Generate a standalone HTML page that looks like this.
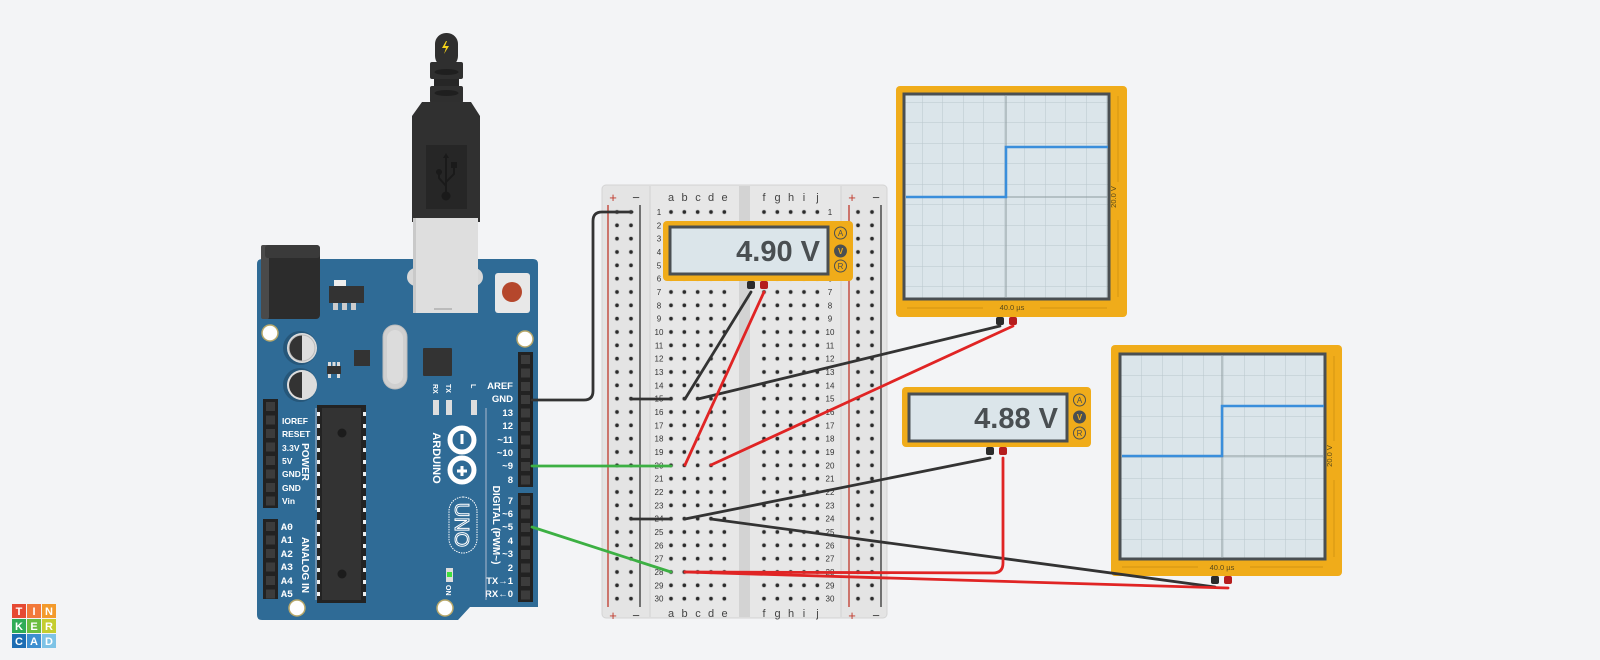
<!DOCTYPE html>
<html><head><meta charset="utf-8"><style>
html,body{margin:0;padding:0;background:#f3f4f6;}
svg{display:block;font-family:"Liberation Sans",sans-serif;}
</style></head><body>
<svg width="1600" height="660" viewBox="0 0 1600 660" xmlns="http://www.w3.org/2000/svg">
<defs>
<pattern id="h1" x="664.33" y="205.33" width="13.333" height="13.333" patternUnits="userSpaceOnUse"><circle cx="6.67" cy="6.67" r="2.6" fill="#d2d2d2"/><circle cx="6.67" cy="6.67" r="1.8" fill="#2b2b2b"/></pattern>
<pattern id="h2" x="757.33" y="205.33" width="13.333" height="13.333" patternUnits="userSpaceOnUse"><circle cx="6.67" cy="6.67" r="2.6" fill="#d2d2d2"/><circle cx="6.67" cy="6.67" r="1.8" fill="#2b2b2b"/></pattern>
<pattern id="h3" x="610.33" y="205.33" width="14" height="13.333" patternUnits="userSpaceOnUse"><circle cx="6.67" cy="6.67" r="2.6" fill="#d2d2d2"/><circle cx="6.67" cy="6.67" r="1.8" fill="#2b2b2b"/></pattern>
<pattern id="h4" x="851.33" y="205.33" width="14" height="13.333" patternUnits="userSpaceOnUse"><circle cx="6.67" cy="6.67" r="2.6" fill="#d2d2d2"/><circle cx="6.67" cy="6.67" r="1.8" fill="#2b2b2b"/></pattern>
<pattern id="grid" x="0" y="0" width="20.5" height="20.5" patternUnits="userSpaceOnUse"><path d="M20.5 0V20.5H0" fill="none" stroke="#b9c6cc" stroke-width="1"/></pattern>
</defs>

<!-- USB cable -->
<g>
<rect x="435" y="33" width="23" height="34" rx="11" fill="#2f2f2f"/>
<path d="M446 41 l-4 7 h4 l-2 6 l5 -8 h-4 l2 -5z" fill="#f5d31a"/>
<rect x="430" y="62" width="33" height="17" rx="2" fill="#2f2f2f"/>
<ellipse cx="446.5" cy="72" rx="12" ry="3" fill="#1f1f1f"/>
<rect x="434" y="79" width="25" height="7" fill="#262626"/>
<rect x="430" y="86" width="33" height="17" rx="2" fill="#2f2f2f"/>
<ellipse cx="446.5" cy="93" rx="12" ry="3" fill="#1f1f1f"/>
<path d="M422 102 H471 L480 116 V222 H412 V116Z" fill="#303030"/>
<rect x="426" y="145" width="41" height="64" fill="#262626"/>
<g stroke="#1a1a1a" stroke-width="2" fill="none"><path d="M446 157 V196 M446 186 L439 178 V172 M446 182 L454 174 V166"/></g>
<path d="M446 153 l-3 5 h6z" fill="#1a1a1a"/><circle cx="439" cy="172" r="3" fill="#1a1a1a"/><rect x="451" y="162" width="6" height="6" fill="#1a1a1a"/><circle cx="446" cy="196" r="4.5" fill="#1a1a1a"/>
</g>

<!-- Arduino -->
<g>
<path d="M262 259 H533 Q538 259 538 264 V607 H470 L458 620 H262 Q257 620 257 615 V264 Q257 259 262 259Z" fill="#2f6b96"/>
<rect x="265" y="245" width="55" height="74" rx="4" fill="#2c2c2c"/>
<rect x="261" y="245" width="8" height="74" rx="2" fill="#4a4a4a"/>
<rect x="265" y="245" width="55" height="13" rx="3" fill="#3a3a3a"/>
<rect x="334" y="280" width="12" height="6" fill="#eee"/>
<rect x="329" y="286" width="35" height="17" fill="#333"/>
<rect x="333" y="303" width="5" height="7" fill="#ccc"/><rect x="342" y="303" width="5" height="7" fill="#ccc"/><rect x="351" y="303" width="5" height="7" fill="#ccc"/>
<!-- USB B -->
<rect x="407" y="268" width="76" height="18" rx="9" fill="#d8d8d8"/>
<rect x="413" y="218" width="65" height="95" fill="#dedede"/>
<rect x="413" y="218" width="3" height="95" fill="#c9c9c9"/>
<rect x="434" y="308" width="18" height="2" fill="#bbb"/>
<!-- reset -->
<rect x="495" y="273" width="35" height="40" rx="3" fill="#e8e8e8"/>
<circle cx="512" cy="292" r="10" fill="#b5472c"/>
<!-- holes -->
<circle cx="270" cy="333" r="8" fill="#fff" stroke="#b8a86a" stroke-width="1.5"/>
<circle cx="525" cy="339" r="8" fill="#fff" stroke="#b8a86a" stroke-width="1.5"/>
<circle cx="297" cy="608" r="8" fill="#fff" stroke="#b8a86a" stroke-width="1.5"/>
<circle cx="445" cy="608" r="8" fill="#fff" stroke="#b8a86a" stroke-width="1.5"/>
<!-- caps -->
<circle cx="300" cy="348" r="17" fill="#26577a"/><circle cx="302" cy="348" r="15" fill="#ddd"/><path d="M302 335 A13 13 0 0 0 302 361Z" fill="#333"/><circle cx="302" cy="348" r="13" fill="none" stroke="#bbb" stroke-width="1"/>
<circle cx="300" cy="385" r="17" fill="#26577a"/><circle cx="302" cy="385" r="15" fill="#ddd"/><path d="M302 372 A13 13 0 0 0 302 398Z" fill="#333"/>
<rect x="354" y="350" width="16" height="16" fill="#333"/>
<rect x="327" y="366" width="14" height="8" fill="#333"/>
<rect x="328" y="362" width="3" height="4" fill="#ddd"/><rect x="332.5" y="362" width="3" height="4" fill="#ddd"/><rect x="337" y="362" width="3" height="4" fill="#ddd"/>
<rect x="328" y="374" width="3" height="4" fill="#ddd"/><rect x="337" y="374" width="3" height="4" fill="#ddd"/>
<rect x="383" y="325" width="24" height="64" rx="12" fill="#d0d0d0" stroke="#bdbdbd"/>
<rect x="387" y="330" width="16" height="54" rx="8" fill="#dcdcdc"/>
<rect x="423" y="348" width="29" height="28" rx="1" fill="#333"/>
<!-- ATmega -->
<rect x="317" y="405" width="49" height="198" fill="#232323"/>
<rect x="322" y="408" width="39" height="192" fill="#333"/>
<g fill="#eee"><rect x="317" y="412" width="3" height="4"/><rect x="317" y="424" width="3" height="4"/><rect x="317" y="436" width="3" height="4"/><rect x="317" y="448" width="3" height="4"/><rect x="317" y="460" width="3" height="4"/><rect x="317" y="472" width="3" height="4"/><rect x="317" y="484" width="3" height="4"/><rect x="317" y="496" width="3" height="4"/><rect x="317" y="508" width="3" height="4"/><rect x="317" y="520" width="3" height="4"/><rect x="317" y="532" width="3" height="4"/><rect x="317" y="544" width="3" height="4"/><rect x="317" y="556" width="3" height="4"/><rect x="317" y="568" width="3" height="4"/><rect x="317" y="580" width="3" height="4"/><rect x="317" y="592" width="3" height="4"/>
<rect x="363" y="412" width="3" height="4"/><rect x="363" y="424" width="3" height="4"/><rect x="363" y="436" width="3" height="4"/><rect x="363" y="448" width="3" height="4"/><rect x="363" y="460" width="3" height="4"/><rect x="363" y="472" width="3" height="4"/><rect x="363" y="484" width="3" height="4"/><rect x="363" y="496" width="3" height="4"/><rect x="363" y="508" width="3" height="4"/><rect x="363" y="520" width="3" height="4"/><rect x="363" y="532" width="3" height="4"/><rect x="363" y="544" width="3" height="4"/><rect x="363" y="556" width="3" height="4"/><rect x="363" y="568" width="3" height="4"/><rect x="363" y="580" width="3" height="4"/><rect x="363" y="592" width="3" height="4"/></g>
<circle cx="342" cy="433" r="4.5" fill="#1c1c1c"/><circle cx="342" cy="574" r="4.5" fill="#1c1c1c"/>
<!-- headers -->
<rect x="263" y="399" width="15" height="109" fill="#222"/>
<rect x="263" y="519" width="15" height="80" fill="#222"/>
<rect x="518" y="352" width="15" height="135" fill="#222"/>
<rect x="518" y="493" width="15" height="109" fill="#222"/>
<g fill="#3c3c3c">
<rect x="266" y="402" width="9" height="9"/><rect x="266" y="415.5" width="9" height="9"/><rect x="266" y="429" width="9" height="9"/><rect x="266" y="442.5" width="9" height="9"/><rect x="266" y="456" width="9" height="9"/><rect x="266" y="469.5" width="9" height="9"/><rect x="266" y="483" width="9" height="9"/><rect x="266" y="496.5" width="9" height="9"/>
<rect x="266" y="522" width="9" height="9"/><rect x="266" y="535.5" width="9" height="9"/><rect x="266" y="549" width="9" height="9"/><rect x="266" y="562.5" width="9" height="9"/><rect x="266" y="576" width="9" height="9"/><rect x="266" y="589.5" width="9" height="9"/>
<rect x="521" y="355" width="9" height="9"/><rect x="521" y="368.5" width="9" height="9"/><rect x="521" y="382" width="9" height="9"/><rect x="521" y="395" width="9" height="9"/><rect x="521" y="408.5" width="9" height="9"/><rect x="521" y="422" width="9" height="9"/><rect x="521" y="435.5" width="9" height="9"/><rect x="521" y="449" width="9" height="9"/><rect x="521" y="462" width="9" height="9"/><rect x="521" y="475.5" width="9" height="9"/>
<rect x="521" y="496" width="9" height="9"/><rect x="521" y="509.5" width="9" height="9"/><rect x="521" y="523" width="9" height="9"/><rect x="521" y="536.5" width="9" height="9"/><rect x="521" y="550" width="9" height="9"/><rect x="521" y="563.5" width="9" height="9"/><rect x="521" y="577" width="9" height="9"/><rect x="521" y="590.5" width="9" height="9"/>
</g>
<g fill="#fff" font-size="8.5" font-weight="bold">
<text x="282" y="424">IOREF</text><text x="282" y="437">RESET</text><text x="282" y="451">3.3V</text><text x="282" y="464">5V</text><text x="282" y="477">GND</text><text x="282" y="491">GND</text><text x="282" y="504">Vin</text>
</g>
<g fill="#fff" font-size="10" font-weight="bold" font-family="Liberation Mono,monospace">
<text x="281" y="530">A0</text><text x="281" y="543">A1</text><text x="281" y="557">A2</text><text x="281" y="570">A3</text><text x="281" y="584">A4</text><text x="281" y="597">A5</text>
</g>
<line x1="316" y1="408" x2="316" y2="510" stroke="#ccd" stroke-width="0.8"/>
<line x1="316" y1="520" x2="316" y2="600" stroke="#ccd" stroke-width="0.8"/>
<text transform="translate(302,462) rotate(90)" text-anchor="middle" fill="#fff" font-size="10" font-weight="bold">POWER</text>
<text transform="translate(302,565) rotate(90)" text-anchor="middle" fill="#fff" font-size="10" font-weight="bold">ANALOG IN</text>
<g fill="#fff" font-size="9.5" font-weight="bold" text-anchor="end">
<text x="513" y="389">AREF</text><text x="513" y="402">GND</text><text x="513" y="416">13</text><text x="513" y="429">12</text><text x="513" y="443">~11</text><text x="513" y="456">~10</text><text x="513" y="469">~9</text><text x="513" y="483">8</text>
<text x="513" y="504">7</text><text x="513" y="517">~6</text><text x="513" y="530">~5</text><text x="513" y="544">4</text><text x="513" y="557">~3</text><text x="513" y="571">2</text><text x="513" y="584">TX→1</text><text x="513" y="597">RX←0</text>
</g>
<line x1="486" y1="408" x2="486" y2="600" stroke="#ccd" stroke-width="0.8"/>
<text transform="translate(493,525) rotate(90)" text-anchor="middle" fill="#fff" font-size="10" font-weight="bold">DIGITAL (PWM~)</text>
<g font-size="7" fill="#fff" font-weight="bold">
<text transform="translate(433,384) rotate(90)">RX</text><text transform="translate(446,384) rotate(90)">TX</text><text transform="translate(471,384) rotate(90)">L</text>
</g>
<rect x="433" y="400" width="6" height="15" fill="#ddd"/><rect x="446" y="400" width="6" height="15" fill="#ddd"/><rect x="471" y="400" width="6" height="15" fill="#ddd"/>
<text transform="translate(433,458) rotate(90)" text-anchor="middle" fill="#fff" font-size="11" font-weight="bold">ARDUINO</text>
<circle cx="462" cy="440" r="12" fill="none" stroke="#fff" stroke-width="5"/>
<circle cx="462" cy="470" r="12" fill="none" stroke="#fff" stroke-width="5"/>
<rect x="460.5" y="434" width="3" height="10" fill="#fff"/>
<path d="M457 471 H467 M462 466 V476" stroke="#fff" stroke-width="3"/>
<rect x="449" y="497" width="28" height="56" rx="14" fill="none" stroke="#fff" stroke-width="1" stroke-dasharray="1.5 1"/>
<text transform="translate(455,525) rotate(90)" text-anchor="middle" fill="none" stroke="#fff" stroke-width="1" font-size="20">UNO</text>
<rect x="446" y="568" width="7" height="14" fill="#ddd"/><rect x="447" y="572" width="5" height="5" fill="#3ee03e"/>
<text transform="translate(446,585) rotate(90)" fill="#fff" font-size="7" font-weight="bold">ON</text>
</g>

<!-- breadboard -->
<g>
<rect x="602" y="185" width="285" height="433" rx="4" fill="#e4e4e4" stroke="#d4d4d4"/>
<rect x="650" y="186" width="191" height="431" fill="#e7e7e7"/>
<line x1="650" y1="186" x2="650" y2="617" stroke="#d2d2d2"/>
<line x1="841" y1="186" x2="841" y2="617" stroke="#d2d2d2"/>
<rect x="739" y="186" width="11" height="431" fill="#d3d3d3"/>
<line x1="608" y1="205" x2="608" y2="607" stroke="#c0392b" stroke-width="1.3"/>
<line x1="640" y1="205" x2="640" y2="607" stroke="#333" stroke-width="1.3"/>
<line x1="849" y1="205" x2="849" y2="607" stroke="#c0392b" stroke-width="1.3"/>
<line x1="881" y1="205" x2="881" y2="607" stroke="#333" stroke-width="1.3"/>
<rect x="610.33" y="205.33" width="28" height="400" fill="url(#h3)"/>
<rect x="851.33" y="205.33" width="28" height="400" fill="url(#h4)"/>
<rect x="664.33" y="205.33" width="66.67" height="400" fill="url(#h1)"/>
<rect x="757.33" y="205.33" width="66.67" height="400" fill="url(#h2)"/>
<g font-size="13" text-anchor="middle" fill="#c0392b"><text x="613" y="202">+</text><text x="613" y="620">+</text><text x="852" y="202">+</text><text x="852" y="620">+</text></g>
<g font-size="13" text-anchor="middle" fill="#444"><text x="636" y="202">−</text><text x="636" y="620">−</text><text x="876" y="202">−</text><text x="876" y="620">−</text></g>
<g font-size="11" text-anchor="middle" fill="#444">
<text x="671" y="201">a</text><text x="684.5" y="201">b</text><text x="698" y="201">c</text><text x="711" y="201">d</text><text x="724.5" y="201">e</text>
<text x="764" y="201">f</text><text x="777.5" y="201">g</text><text x="791" y="201">h</text><text x="804" y="201">i</text><text x="817.5" y="201">j</text>
<text x="671" y="617">a</text><text x="684.5" y="617">b</text><text x="698" y="617">c</text><text x="711" y="617">d</text><text x="724.5" y="617">e</text>
<text x="764" y="617">f</text><text x="777.5" y="617">g</text><text x="791" y="617">h</text><text x="804" y="617">i</text><text x="817.5" y="617">j</text>
</g>
<g font-size="8" text-anchor="middle" fill="#333">
<text x="659" y="215">1</text><text x="659" y="228.3">2</text><text x="659" y="241.7">3</text><text x="659" y="255">4</text><text x="659" y="268.3">5</text><text x="659" y="281.7">6</text><text x="659" y="295">7</text><text x="659" y="308.3">8</text><text x="659" y="321.7">9</text><text x="659" y="335">10</text><text x="659" y="348.3">11</text><text x="659" y="361.7">12</text><text x="659" y="375">13</text><text x="659" y="388.3">14</text><text x="659" y="401.7">15</text><text x="659" y="415">16</text><text x="659" y="428.3">17</text><text x="659" y="441.7">18</text><text x="659" y="455">19</text><text x="659" y="468.3">20</text><text x="659" y="481.7">21</text><text x="659" y="495">22</text><text x="659" y="508.3">23</text><text x="659" y="521.7">24</text><text x="659" y="535">25</text><text x="659" y="548.3">26</text><text x="659" y="561.7">27</text><text x="659" y="575">28</text><text x="659" y="588.3">29</text><text x="659" y="601.7">30</text>
<text x="830" y="215">1</text><text x="830" y="228.3">2</text><text x="830" y="241.7">3</text><text x="830" y="255">4</text><text x="830" y="268.3">5</text><text x="830" y="281.7">6</text><text x="830" y="295">7</text><text x="830" y="308.3">8</text><text x="830" y="321.7">9</text><text x="830" y="335">10</text><text x="830" y="348.3">11</text><text x="830" y="361.7">12</text><text x="830" y="375">13</text><text x="830" y="388.3">14</text><text x="830" y="401.7">15</text><text x="830" y="415">16</text><text x="830" y="428.3">17</text><text x="830" y="441.7">18</text><text x="830" y="455">19</text><text x="830" y="468.3">20</text><text x="830" y="481.7">21</text><text x="830" y="495">22</text><text x="830" y="508.3">23</text><text x="830" y="521.7">24</text><text x="830" y="535">25</text><text x="830" y="548.3">26</text><text x="830" y="561.7">27</text><text x="830" y="575">28</text><text x="830" y="588.3">29</text><text x="830" y="601.7">30</text>
</g>
</g>

<!-- Oscilloscope 1 -->
<g>
<rect x="896" y="86" width="231" height="231" rx="4" fill="#f0ac1a"/>
<rect x="904" y="94" width="205" height="205" fill="#dbe5ea" stroke="#4a4f52" stroke-width="3"/>
<rect x="905.5" y="95.5" width="202" height="202" fill="url(#grid)" transform="translate(0,0)"/>
<line x1="1006" y1="95" x2="1006" y2="298" stroke="#8e9a9f" stroke-width="1"/>
<line x1="905" y1="197" x2="1108" y2="197" stroke="#8e9a9f" stroke-width="1"/>
<path d="M906 197 H1006 V147 H1108" fill="none" stroke="#3a8edb" stroke-width="2.5"/>
<text x="1012" y="310" text-anchor="middle" font-size="7.5" fill="#5a4a1a">40.0 µs</text>
<line x1="907" y1="308" x2="983" y2="308" stroke="#c98d10" stroke-width="0.7"/><line x1="1040" y1="308" x2="1107" y2="308" stroke="#c98d10" stroke-width="0.7"/>
<text transform="translate(1116,197) rotate(-90)" text-anchor="middle" font-size="7.5" fill="#5a4a1a">20.0 V</text>
<line x1="1118" y1="96" x2="1118" y2="182" stroke="#c98d10" stroke-width="0.7"/><line x1="1118" y1="220" x2="1118" y2="297" stroke="#c98d10" stroke-width="0.7"/>
</g>
<!-- Oscilloscope 2 -->
<g>
<rect x="1111" y="345" width="231" height="231" rx="4" fill="#f0ac1a"/>
<rect x="1120" y="354" width="205" height="205" fill="#dbe5ea" stroke="#4a4f52" stroke-width="3"/>
<g transform="translate(1121.5,355.5)"><rect x="0" y="0" width="202" height="202" fill="url(#grid)"/></g>
<line x1="1222" y1="355" x2="1222" y2="558" stroke="#8e9a9f" stroke-width="1"/>
<line x1="1121" y1="456" x2="1324" y2="456" stroke="#8e9a9f" stroke-width="1"/>
<path d="M1122 456 H1222 V406 H1324" fill="none" stroke="#3a8edb" stroke-width="2.5"/>
<text x="1222" y="570" text-anchor="middle" font-size="7.5" fill="#5a4a1a">40.0 µs</text>
<line x1="1122" y1="567" x2="1198" y2="567" stroke="#c98d10" stroke-width="0.7"/><line x1="1250" y1="567" x2="1323" y2="567" stroke="#c98d10" stroke-width="0.7"/>
<text transform="translate(1332,456) rotate(-90)" text-anchor="middle" font-size="7.5" fill="#5a4a1a">20.0 V</text>
<line x1="1334" y1="356" x2="1334" y2="441" stroke="#c98d10" stroke-width="0.7"/><line x1="1334" y1="480" x2="1334" y2="557" stroke="#c98d10" stroke-width="0.7"/>
</g>

<!-- Multimeter 1 -->
<g>
<rect x="663" y="221" width="190" height="60" rx="4" fill="#f0ac1a"/>
<rect x="670" y="227" width="158" height="47" fill="#dbe5ea" stroke="#4a4f52" stroke-width="3"/>
<text x="820" y="261" text-anchor="end" font-size="29" font-weight="bold" fill="#4a4f52">4.90 V</text>
<circle cx="840.5" cy="233" r="6" fill="none" stroke="#4a4f52" stroke-width="1"/><text x="840.5" y="236" text-anchor="middle" font-size="8" fill="#4a4f52">A</text>
<circle cx="840.5" cy="251" r="6.5" fill="#4a4f52"/><text x="840.5" y="254" text-anchor="middle" font-size="8" fill="#f0ac1a" font-weight="bold">V</text>
<circle cx="840.5" cy="266" r="6" fill="none" stroke="#4a4f52" stroke-width="1"/><text x="840.5" y="269" text-anchor="middle" font-size="8" fill="#4a4f52">R</text>
</g>
<!-- Multimeter 2 -->
<g>
<rect x="902" y="387" width="189" height="60" rx="4" fill="#f0ac1a"/>
<rect x="909" y="394" width="158" height="47" fill="#dbe5ea" stroke="#4a4f52" stroke-width="3"/>
<text x="1058" y="428" text-anchor="end" font-size="29" font-weight="bold" fill="#4a4f52">4.88 V</text>
<circle cx="1079.5" cy="400" r="6" fill="none" stroke="#4a4f52" stroke-width="1"/><text x="1079.5" y="403" text-anchor="middle" font-size="8" fill="#4a4f52">A</text>
<circle cx="1079.5" cy="417" r="6.5" fill="#4a4f52"/><text x="1079.5" y="420" text-anchor="middle" font-size="8" fill="#f0ac1a" font-weight="bold">V</text>
<circle cx="1079.5" cy="433" r="6" fill="none" stroke="#4a4f52" stroke-width="1"/><text x="1079.5" y="436" text-anchor="middle" font-size="8" fill="#4a4f52">R</text>
</g>

<!-- probes -->
<g>
<rect x="747" y="281" width="8" height="8" rx="2" fill="#2b2b2b"/><rect x="760" y="281" width="8" height="8" rx="2" fill="#b51d1d"/>
<rect x="996" y="317" width="8" height="8" rx="2" fill="#2b2b2b"/><rect x="1009" y="317" width="8" height="8" rx="2" fill="#b51d1d"/>
<rect x="986" y="447" width="8" height="8" rx="2" fill="#2b2b2b"/><rect x="999" y="447" width="8" height="8" rx="2" fill="#b51d1d"/>
<rect x="1211" y="576" width="8" height="8" rx="2" fill="#2b2b2b"/><rect x="1224" y="576" width="8" height="8" rx="2" fill="#b51d1d"/>
</g>

<!-- wires -->
<g fill="none" stroke-linecap="round" stroke-width="2.8">
<path d="M532 400 H584 Q593 400 593 391 V221 Q593 212 602 212 H632" stroke="#333"/>
<path d="M631 399 H671" stroke="#333"/>
<path d="M631 519 H671" stroke="#333"/>
<path d="M751 292 L685 399" stroke="#333"/>
<path d="M698 399 L1000 326" stroke="#333"/>
<path d="M685 519 L990 458" stroke="#333"/>
<path d="M711 519 L1215 587" stroke="#333"/>
<path d="M764 292 L685 465" stroke="#e02424"/>
<path d="M711 465 L1013 326" stroke="#e02424"/>
<path d="M1003 458 V563 Q1003 573 993 573 L685 572" stroke="#e02424"/>
<path d="M685 572 L1228 588" stroke="#e02424"/>
<path d="M532 466 H671" stroke="#3cb043"/>
<path d="M532 527 L671 572" stroke="#3cb043"/>
</g>

<!-- logo -->
<g font-size="11" font-weight="bold" fill="#fff" text-anchor="middle">
<rect x="12" y="604" width="14" height="14" fill="#e64a33"/><rect x="27" y="604" width="14" height="14" fill="#f2793a"/><rect x="42" y="604" width="14" height="14" fill="#f39a2c"/>
<rect x="12" y="619" width="14" height="14" fill="#2fac57"/><rect x="27" y="619" width="14" height="14" fill="#6cbd40"/><rect x="42" y="619" width="14" height="14" fill="#c5cd2f"/>
<rect x="12" y="634" width="14" height="14" fill="#1c6db3"/><rect x="27" y="634" width="14" height="14" fill="#3d8fd0"/><rect x="42" y="634" width="14" height="14" fill="#7ec3e6"/>
<text x="19" y="615">T</text><text x="34" y="615">I</text><text x="49" y="615">N</text>
<text x="19" y="630">K</text><text x="34" y="630">E</text><text x="49" y="630">R</text>
<text x="19" y="645">C</text><text x="34" y="645">A</text><text x="49" y="645">D</text>
</g>
</svg>
</body></html>
